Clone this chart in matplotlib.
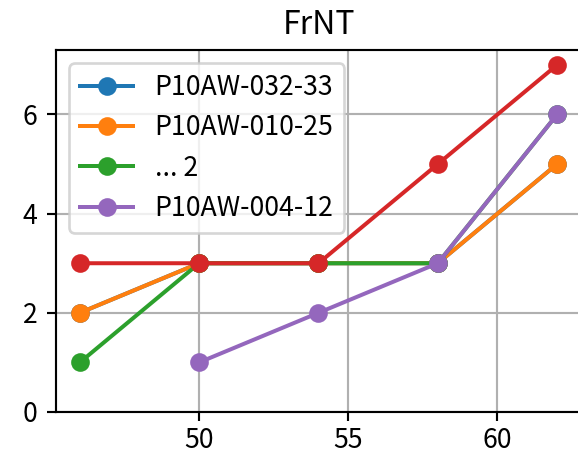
import matplotlib
matplotlib.use("Agg")
import matplotlib.pyplot as plt

plt.rcParams['font.family'] = ['Noto Sans CJK JP', 'DejaVu Sans']

x_all = [46, 50, 54, 58, 62]
blue_y = [2, 3, 3, 3, 5]
orange_y = [2, 3, 3, 3, 5]
green_y = [1, 3, 3, 3, 6]
red_y = [3, 3, 3, 5, 7]
x_purple = [50, 54, 58, 62]
purple_y = [1, 2, 3, 6]

labels = ['P10AW-032-33', 'P10AW-010-25', '... 2', 'P10AW-004-12']
title = 'FrNT'

fig = plt.figure(figsize=(578/192, 454/192), dpi=192)
ax = fig.add_axes([56/578, 42/454, (581-56)/578, (412-50)/454])

ax.plot(x_all, blue_y, 'o-', color='C0', label=labels[0])
ax.plot(x_all, orange_y, 'o-', color='C1', label=labels[1])
ax.plot(x_all, green_y, 'o-', color='C2', label=labels[2])
ax.plot(x_all, red_y, 'o-', color='C3')
ax.plot(x_purple, purple_y, 'o-', color='C4', label=labels[3])

ax.set_ylim(bottom=0)
ax.set_xticks([50, 55, 60])
ax.set_yticks([0, 2, 4, 6])
ax.tick_params(axis='x', pad=2)
ax.grid(True)
ax.set_title(title)
ax.legend(loc='upper left')

fig.savefig('out.png', dpi=192)
